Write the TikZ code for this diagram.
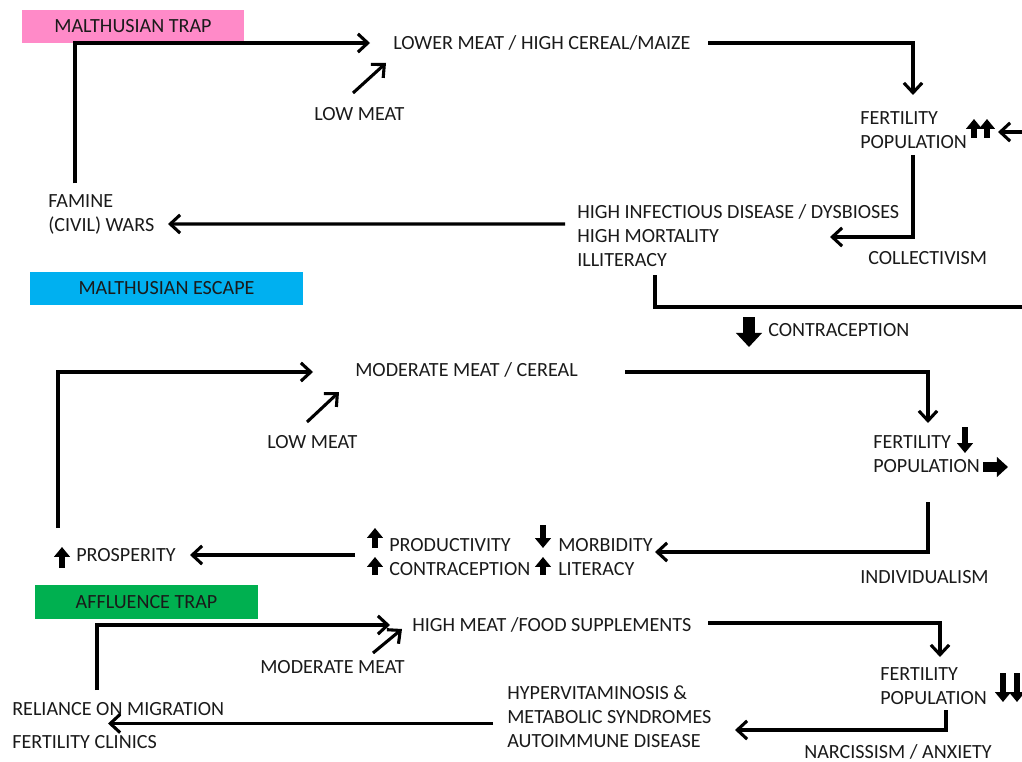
\documentclass[tikz,border=0pt]{standalone}
\usepackage{fontspec}
\setmainfont{Carlito}
\usepackage{tikz}
\usetikzlibrary{arrows.meta, calc}
\definecolor{phasecolor0}{HTML}{FF8AC8}
\definecolor{phasecolor1}{HTML}{00B0F0}
\definecolor{phasecolor2}{HTML}{00B050}
\definecolor{inkcolor}{HTML}{1A1A1A}
\tikzset{
  label_text/.style={anchor=west, inner sep=0pt, align=left, text=inkcolor, font=\fontsize{14.3}{17.1}\selectfont},
  phase_box/.style={inner sep=0pt, minimum height=0.83cm, text=inkcolor, font=\fontsize{14.3}{17.1}\selectfont},
  flow_line/.style={line width=2.2pt, color=black},
  flow_arrow/.style={flow_line, -{Straight Barb[length=7pt, width=13pt]}},
  fat_arrow/.style={line width=4.4pt, color=black, -{Triangle[length=7pt, width=11pt]}},
  fat_mid/.style={line width=6.5pt, color=black, -{Triangle[length=8pt, width=14pt]}},
  fat_big/.style={line width=8.5pt, color=black, -{Triangle[length=10pt, width=18pt]}}
}
\begin{document}
\begin{tikzpicture}[x=0.025cm, y=-0.025cm]
\useasboundingbox (0,0) rectangle (1022,762);
% phase labels
\node[phase_box, fill=phasecolor0, minimum width=5.55cm] (trap_box) at (133,26.5) {MALTHUSIAN TRAP};
\node[phase_box, fill=phasecolor1, minimum width=6.83cm] (escape_box) at (166.5,288.5) {MALTHUSIAN ESCAPE};
\node[phase_box, fill=phasecolor2, minimum width=5.58cm, minimum height=0.85cm] (affluence_box) at (146.5,602) {AFFLUENCE TRAP};

% malthusian trap
\node[label_text] (lower_node) at (393,43) {LOWER MEAT / HIGH CEREAL/MAIZE};
\node[label_text] (lowmeat_a) at (314,114) {LOW MEAT};
\node[label_text] (fert_a) at (860,130) {FERTILITY\\POPULATION};
\node[label_text] (disease_node) at (577,236) {HIGH INFECTIOUS DISEASE / DYSBIOSES\\HIGH MORTALITY\\ILLITERACY};
\node[label_text] (famine_node) at (48,214.5) {FAMINE\\(CIVIL) WARS};
\node[label_text] (collect_node) at (868,258) {COLLECTIVISM};
\coordinate (edge_in) at (1022,132);
\coordinate (edge_out) at (1022,307);

\draw[flow_arrow] ($(famine_node.west)+(27,-31)$) |- ($(lower_node.west)+(-23,0)$);
\draw[flow_arrow] ($(lowmeat_a.west)+(39,-21)$) -- ($(lower_node.west)+(-7,20)$);
\draw[flow_arrow] ($(lower_node.west)+(315,0)$) -| ($(fert_a.west)+(53,-35)$);
\draw[flow_arrow] ($(fert_a.west)+(53,25)$) |- ($(disease_node.west)+(253,1)$);
\draw[flow_arrow] ($(disease_node.west)+(-12,-12)$) -- ($(famine_node.west)+(120,9.5)$);
\draw[flow_arrow] (edge_in) -- ($(fert_a.west)+(138,2)$);
\draw[fat_arrow] ($(fert_a.west)+(114,8)$) -- ($(fert_a.west)+(114,-11)$);
\draw[fat_arrow] ($(fert_a.west)+(127,8)$) -- ($(fert_a.west)+(127,-11)$);
\draw[flow_line] ($(disease_node.west)+(78,39)$) |- (edge_out);

% malthusian escape
\node[label_text] (contra_a) at (768,330) {CONTRACEPTION};
\draw[fat_big] ($(contra_a.west)+(-19,-13)$) -- ($(contra_a.west)+(-19,17)$);
\node[label_text] (moderate_node) at (355,370) {MODERATE MEAT / CEREAL};
\node[label_text] (lowmeat_b) at (267,442) {LOW MEAT};
\node[label_text] (fert_b) at (873,454) {FERTILITY\\POPULATION};
\node[label_text] (prod_node) at (389,545) {PRODUCTIVITY};
\node[label_text] (contra_b) at (389,569) {CONTRACEPTION};
\node[label_text] (morbid_node) at (558,545) {MORBIDITY};
\node[label_text] (literacy_node) at (558,569) {LITERACY};
\node[label_text] (prosper_node) at (76,555) {PROSPERITY};
\node[label_text] (individ_node) at (860,577) {INDIVIDUALISM};

\draw[flow_arrow] ($(prosper_node.west)+(-18,-27)$) |- ($(moderate_node.west)+(-42,2)$);
\draw[flow_arrow] ($(lowmeat_b.west)+(40,-20)$) -- ($(moderate_node.west)+(-16,22)$);
\draw[flow_arrow] ($(moderate_node.west)+(270,2)$) -| ($(fert_b.west)+(55,-31)$);
\draw[fat_arrow] ($(fert_b.west)+(92,-27)$) -- ($(fert_b.west)+(92,-1)$);
\draw[fat_mid] ($(fert_b.west)+(110,13)$) -- ($(fert_b.west)+(135,13)$);
\draw[flow_arrow] ($(fert_b.west)+(55,48)$) |- ($(morbid_node.west)+(97,7)$);
\draw[flow_arrow] ($(prod_node.west)+(-34,10)$) -- ($(prosper_node.west)+(114,0)$);
\draw[fat_arrow] ($(prod_node.west)+(-14,3)$) -- ($(prod_node.west)+(-14,-17)$);
\draw[fat_arrow] ($(contra_b.west)+(-14,6)$) -- ($(contra_b.west)+(-14,-12)$);
\draw[fat_arrow] ($(morbid_node.west)+(-15,-20)$) -- ($(morbid_node.west)+(-15,3)$);
\draw[fat_arrow] ($(literacy_node.west)+(-15,6)$) -- ($(literacy_node.west)+(-15,-12)$);
\draw[fat_arrow] ($(prosper_node.west)+(-14,13)$) -- ($(prosper_node.west)+(-14,-8)$);

% affluence trap
\node[label_text] (highmeat_node) at (412,625) {HIGH MEAT /FOOD SUPPLEMENTS};
\node[label_text] (modmeat_node) at (260,667) {MODERATE MEAT};
\node[label_text] (fert_c) at (880,686) {FERTILITY\\POPULATION};
\node[label_text] (hyper_node) at (507,717) {HYPERVITAMINOSIS \&\\METABOLIC SYNDROMES\\AUTOIMMUNE DISEASE};
\node[label_text] (reliance_node) at (12,709) {RELIANCE ON MIGRATION};
\node[label_text] (clinics_node) at (12,742) {FERTILITY CLINICS};
\node[label_text] (narciss_node) at (804,752) {NARCISSISM / ANXIETY};

\draw[flow_arrow] ($(reliance_node.west)+(85,-19)$) |- ($(highmeat_node.west)+(-22,0)$);
\draw[flow_arrow] ($(modmeat_node.west)+(113,-14)$) -- ($(highmeat_node.west)+(-10,4)$);
\draw[flow_arrow] ($(highmeat_node.west)+(296,-2)$) -| ($(fert_c.west)+(60,-29)$);
\draw[fat_arrow] ($(fert_c.west)+(123,-13)$) -- ($(fert_c.west)+(123,16)$);
\draw[fat_arrow] ($(fert_c.west)+(137,-13)$) -- ($(fert_c.west)+(137,16)$);
\draw[flow_arrow] ($(fert_c.west)+(66,24)$) |- ($(hyper_node.west)+(228,13)$);
\draw[flow_arrow] ($(hyper_node.west)+(-14,6.5)$) -- ($(reliance_node.west)+(96,14.5)$);
\end{tikzpicture}
\end{document}
